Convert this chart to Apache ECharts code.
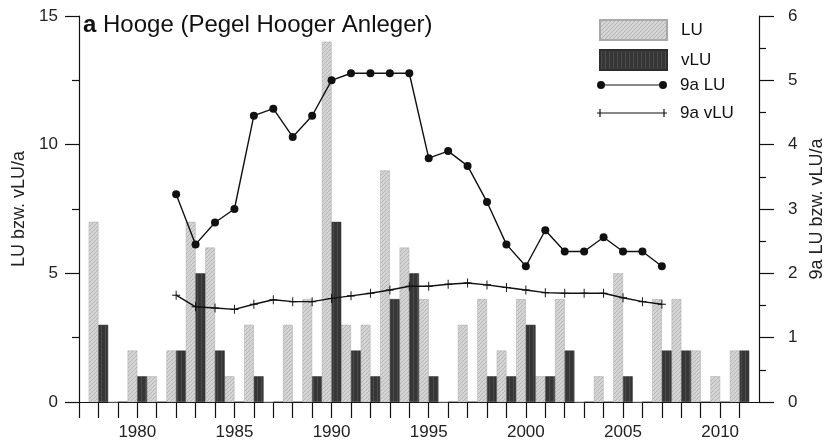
<!DOCTYPE html>
<html>
<head>
<meta charset="utf-8">
<script src="https://cdn.jsdelivr.net/npm/echarts@6/dist/echarts.min.js"></script>
<style>
  html, body { margin: 0; padding: 0; background: #fff; }
  #chart { width: 826px; height: 448px; }
</style>
</head>
<body>
<div id="chart"></div>
<script>
const years = [1978, 1979, 1980, 1981, 1982, 1983, 1984, 1985, 1986, 1987, 1988, 1989,
  1990, 1991, 1992, 1993, 1994, 1995, 1996, 1997, 1998, 1999, 2000, 2001, 2002, 2003,
  2004, 2005, 2006, 2007, 2008, 2009, 2010, 2011]
const luValues = [7, 0, 2, 1, 2, 7, 6, 1, 3, 0, 3, 4, 14, 3, 3, 9, 6, 4, 0, 3, 4, 2, 4, 1, 4, 0,
  1, 5, 0, 4, 4, 2, 1, 2]
const vluValues = [3, 0, 1, 0, 2, 5, 2, 0, 1, 0, 0, 1, 7, 2, 1, 4, 5, 1, 0, 0, 1, 1, 3, 1, 2, 0,
  0, 1, 0, 2, 2, 0, 0, 2]
// 9-jaehrige Mittel (rechte Achse)
const avgYears = [1982, 1983, 1984, 1985, 1986, 1987, 1988, 1989, 1990, 1991, 1992, 1993, 1994,
  1995, 1996, 1997, 1998, 1999, 2000, 2001, 2002, 2003, 2004, 2005, 2006, 2007]
const avgLu = [3.23, 2.45, 2.79, 3.0, 4.45, 4.56, 4.12, 4.45, 5.0, 5.11, 5.11, 5.11, 5.11,
  3.79, 3.9, 3.67, 3.11, 2.45, 2.11, 2.67, 2.34, 2.34, 2.56, 2.34, 2.34, 2.11]
const avgVlu = [1.66, 1.48, 1.46, 1.44, 1.52, 1.59, 1.56, 1.56, 1.61, 1.65, 1.69, 1.74, 1.80,
  1.80, 1.83, 1.85, 1.82, 1.78, 1.74, 1.70, 1.69, 1.69, 1.69, 1.62, 1.56, 1.52]
const xLabelYears = [1980, 1985, 1990, 1995, 2000, 2005, 2010]
const xTickYears = [1977].concat(years)

const FONT = "'Liberation Sans', Arial, Helvetica, sans-serif"

// Schraffur-Muster
function hatch(bg, fg, diagonal) {
  const c = document.createElement('canvas')
  c.width = 4
  c.height = 4
  const ctx = c.getContext('2d')
  ctx.fillStyle = bg
  ctx.fillRect(0, 0, 4, 4)
  ctx.strokeStyle = fg
  ctx.lineWidth = 1
  ctx.beginPath()
  if (diagonal) {
    ctx.moveTo(-1, 5); ctx.lineTo(5, -1)
    ctx.moveTo(-1, 1); ctx.lineTo(1, -1)
    ctx.moveTo(3, 5); ctx.lineTo(5, 3)
  } else {
    ctx.moveTo(1.5, 0); ctx.lineTo(1.5, 4)
  }
  ctx.stroke()
  return { image: c, repeat: 'repeat' }
}
const luFill = hatch('#d4d4d4', '#b6b6b6', true)
const vluFill = hatch('#363636', '#4c4c4c', false)

const pair = (xs, ys) => xs.map((x, i) => [x, ys[i]])

const plusSymbol = 'path://M0,4.4L10,4.4L10,5.6L0,5.6Z M4.4,0L5.6,0L5.6,10L4.4,10Z'
const iconDots = 'path://M0,4A4,4,0,1,1,8,4A4,4,0,1,1,0,4Z M62,4A4,4,0,1,1,70,4A4,4,0,1,1,62,4Z M4,3.4L66,3.4L66,4.6L4,4.6Z'
const iconPlus = 'path://M0,3.4L70,3.4L70,4.6L0,4.6Z M2.4,0L3.6,0L3.6,8L2.4,8Z M66.4,0L67.6,0L67.6,8L66.4,8Z'

const legendText = { fontFamily: FONT, fontSize: 17, color: '#111', lineHeight: 20 }

const chart = echarts.init(document.getElementById('chart'), null, { renderer: 'canvas' })
chart.setOption({
  animation: false,
  textStyle: { fontFamily: FONT },
  title: {
    text: '{b|a} Hooge (Pegel Hooger Anleger)',
    left: 83,
    top: 13,
    padding: 0,
    textStyle: {
      fontFamily: FONT,
      fontSize: 24,
      fontWeight: 'normal',
      color: '#111',
      rich: { b: { fontFamily: FONT, fontSize: 24, fontWeight: 'bold', color: '#111' } }
    }
  },
  legend: [{
    data: [{ name: 'LU', icon: 'rect' }, { name: 'vLU', icon: 'rect' }],
    orient: 'vertical',
    left: 599,
    top: 19,
    padding: 0,
    itemWidth: 67,
    itemHeight: 20,
    itemGap: 8,
    textStyle: Object.assign({ padding: [0, 0, 0, 9] }, legendText)
  }, {
    data: [{ name: '9a LU', icon: iconDots }, { name: '9a vLU', icon: iconPlus }],
    orient: 'vertical',
    left: 597,
    top: 75,
    padding: 0,
    itemWidth: 70,
    itemHeight: 10,
    itemGap: 8,
    textStyle: Object.assign({ padding: [0, 0, 0, 8] }, legendText)
  }],
  grid: { left: 79, right: 67, top: 16, bottom: 46, outerBoundsMode: 'none', containLabel: false },
  xAxis: {
    type: 'value',
    min: 1977,
    max: 2012,
    splitLine: { show: false },
    axisLine: { show: true, lineStyle: { color: '#111', width: 1.2 } },
    axisTick: { show: true, length: 16, customValues: xTickYears, lineStyle: { color: '#111', width: 1.2 } },
    axisLabel: {
      customValues: xLabelYears,
      formatter: (v) => String(v),
      margin: 22,
      fontSize: 17,
      color: '#222',
      fontFamily: FONT
    }
  },
  yAxis: [{
    type: 'value',
    min: 0,
    max: 15,
    interval: 5,
    name: 'LU bzw. vLU/a',
    nameLocation: 'middle',
    nameRotate: 90,
    nameGap: 50,
    nameTextStyle: { fontFamily: FONT, fontSize: 18, color: '#222' },
    splitLine: { show: false },
    axisLine: { show: true, lineStyle: { color: '#111', width: 1.2 } },
    axisTick: { show: true, length: 14, lineStyle: { color: '#111', width: 1.2 } },
    minorTick: { show: true, splitNumber: 2, length: 7, lineStyle: { color: '#111', width: 1.2 } },
    axisLabel: { margin: 21, fontSize: 17, color: '#222', fontFamily: FONT }
  }, {
    type: 'value',
    min: 0,
    max: 6,
    interval: 1,
    position: 'right',
    name: '9a LU bzw. vLU/a',
    nameLocation: 'middle',
    nameRotate: 90,
    nameGap: 45,
    nameTextStyle: { fontFamily: FONT, fontSize: 18, color: '#222' },
    splitLine: { show: false },
    axisLine: { show: true, lineStyle: { color: '#111', width: 1.2 } },
    axisTick: { show: true, length: 15, lineStyle: { color: '#111', width: 1.2 } },
    minorTick: { show: true, splitNumber: 2, length: 7, lineStyle: { color: '#111', width: 1.2 } },
    axisLabel: { margin: 29, fontSize: 17, color: '#222', fontFamily: FONT }
  }],
  series: [{
    name: 'LU',
    type: 'bar',
    data: pair(years, luValues),
    barWidth: 9.7,
    barGap: '0%',
    itemStyle: { color: luFill, borderColor: '#a8a8a8', borderWidth: 0.5 },
    z: 2
  }, {
    name: 'vLU',
    type: 'bar',
    data: pair(years, vluValues),
    barWidth: 9.7,
    barGap: '0%',
    itemStyle: { color: vluFill, borderColor: '#2e2e2e', borderWidth: 0.5 },
    z: 2
  }, {
    name: '9a LU',
    type: 'line',
    yAxisIndex: 1,
    data: pair(avgYears, avgLu),
    symbol: 'circle',
    symbolSize: 8,
    itemStyle: { color: '#111' },
    lineStyle: { color: '#111', width: 1.4 },
    z: 5
  }, {
    name: '9a vLU',
    type: 'line',
    yAxisIndex: 1,
    data: pair(avgYears, avgVlu),
    symbol: plusSymbol,
    symbolSize: [8, 9],
    itemStyle: { color: '#111' },
    lineStyle: { color: '#111', width: 1.4 },
    z: 5
  }]
})
</script>
</body>
</html>
